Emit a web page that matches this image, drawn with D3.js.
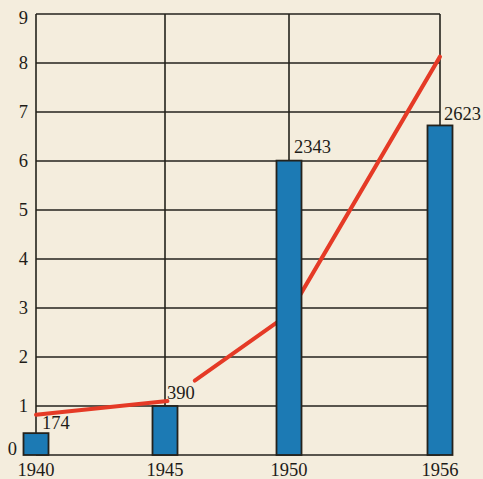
<!DOCTYPE html>
<html>
<head>
<meta charset="utf-8">
<script src="https://cdn.jsdelivr.net/npm/d3@7/dist/d3.min.js"></script>
<style>
  html, body { margin: 0; padding: 0; background: #f4eddd; }
  svg { display: block; }
  text { font-family: "Liberation Serif", "DejaVu Serif", serif; fill: #1e1c18; }
</style>
</head>
<body>
<svg id="chart" width="483" height="479"></svg>
<script>
// Years shown on the horizontal axis
const years = [1940, 1945, 1950, 1956];
// Bar values (labelled above each bar)
const barValues = [174, 390, 2343, 2623];
// Index base: the 1945 value equals 1 on the left scale
const baseValue = 390;
// Left axis tick labels
const yTicks = [0, 1, 2, 3, 4, 5, 6, 7, 8, 9];
// Red line, drawn in two pieces with a gap after 1945
const lineBefore = [[1940, 0.82], [1945.1, 1.1]];
const lineAfter = [[1946.2, 1.52], [1950, 2.88], [1956, 8.13]];

const svg = d3.select("#chart");

const x = d3.scaleLinear()
  .domain(years)
  .range([36, 165, 289, 440]);

const y = d3.scaleLinear()
  .domain([0, 9])
  .range([455, 14]);

const ink = "#24221c";
const fontSize = 18.5;

// Horizontal grid lines
svg.append("g")
  .selectAll("line")
  .data(yTicks)
  .join("line")
  .attr("x1", x(1940))
  .attr("x2", x(1956))
  .attr("y1", d => y(d))
  .attr("y2", d => y(d))
  .attr("stroke", ink)
  .attr("stroke-width", 1.6);

// Vertical grid lines at each year
svg.append("g")
  .selectAll("line")
  .data(years)
  .join("line")
  .attr("x1", d => x(d))
  .attr("x2", d => x(d))
  .attr("y1", y(0))
  .attr("y2", y(9))
  .attr("stroke", ink)
  .attr("stroke-width", 1.6);

// Left tick labels
svg.append("g")
  .selectAll("text")
  .data(yTicks)
  .join("text")
  .attr("x", d => d === 0 ? 17 : 28)
  .attr("y", d => d === 9 ? y(d) + 4 : d === 0 ? y(d) - 6 : y(d))
  .attr("text-anchor", "end")
  .attr("dominant-baseline", "central")
  .attr("font-size", fontSize)
  .text(d => d);

// Year labels
svg.append("g")
  .selectAll("text")
  .data(years)
  .join("text")
  .attr("x", d => x(d))
  .attr("y", 476)
  .attr("text-anchor", "middle")
  .attr("font-size", fontSize)
  .text(d => d);

// Red line
const line = d3.line()
  .x(d => x(d[0]))
  .y(d => y(d[1]));

svg.append("g")
  .selectAll("path")
  .data([lineBefore, lineAfter])
  .join("path")
  .attr("d", line)
  .attr("fill", "none")
  .attr("stroke", "#e53a26")
  .attr("stroke-width", 4)
  .attr("stroke-linecap", "round")
  .attr("stroke-linejoin", "round");

// Bars
const barW = 25;
const bars = years.map((yr, i) => ({ year: yr, value: barValues[i] }));

svg.append("g")
  .selectAll("rect")
  .data(bars)
  .join("rect")
  .attr("x", d => x(d.year) - barW / 2)
  .attr("width", barW)
  .attr("y", d => y(d.value / baseValue))
  .attr("height", d => y(0) - y(d.value / baseValue))
  .attr("fill", "#1c7ab4")
  .attr("stroke", ink)
  .attr("stroke-width", 1.8);

// Value labels
const labelDx = [6, 2, 5, 4];
const labelDy = [-4, -7, -8, -5];
svg.append("g")
  .selectAll("text")
  .data(bars)
  .join("text")
  .attr("x", (d, i) => x(d.year) + labelDx[i])
  .attr("y", (d, i) => y(d.value / baseValue) + labelDy[i])
  .attr("font-size", fontSize)
  .text(d => d.value);
</script>
</body>
</html>
